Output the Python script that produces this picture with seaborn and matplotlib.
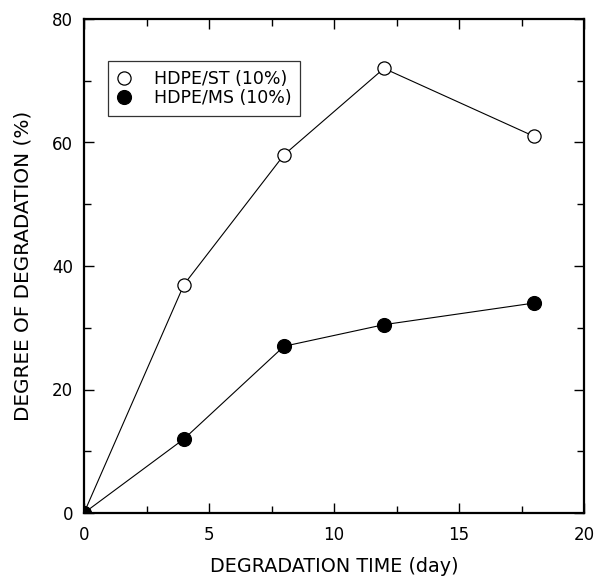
import matplotlib
matplotlib.use("Agg")
import matplotlib.pyplot as plt
import seaborn as sns
import pandas as pd
from matplotlib.ticker import MultipleLocator

days = [0, 4, 8, 12, 18]
st_values = [0, 37, 58, 72, 61]
ms_values = [0, 12, 27, 30.5, 34]
labels = ["HDPE/ST (10%)", "HDPE/MS (10%)"]

sns.set_style("ticks")
plt.rcParams['font.family'] = ['DejaVu Sans']
plt.rcParams['text.color'] = 'black'
plt.rcParams['axes.labelcolor'] = 'black'

fig = plt.figure(figsize=(5.95, 5.79), dpi=100)
ax = fig.add_axes([84/595, 1-513/579, 500/595, 494/579])

df_st = pd.DataFrame({"day": days, "val": st_values})
df_ms = pd.DataFrame({"day": days, "val": ms_values})

sns.lineplot(data=df_st, x="day", y="val", ax=ax, color="black", lw=0.8,
             marker="o", markersize=9.5, markerfacecolor="white",
             markeredgecolor="black", markeredgewidth=0.9, label=labels[0])
sns.lineplot(data=df_ms, x="day", y="val", ax=ax, color="black", lw=0.8,
             marker="o", markersize=10, markerfacecolor="black",
             markeredgecolor="black", markeredgewidth=0.9, label=labels[1])

ax.set_xlim(0, 20)
ax.set_ylim(0, 80)
ax.xaxis.set_major_locator(MultipleLocator(5))
ax.xaxis.set_minor_locator(MultipleLocator(2.5))
ax.yaxis.set_major_locator(MultipleLocator(20))
ax.yaxis.set_minor_locator(MultipleLocator(10))
ax.tick_params(which="both", direction="in", top=True, right=True,
               labelsize=12, width=1.0, colors="black")
ax.tick_params(axis="x", which="both", pad=9.5)
ax.tick_params(axis="y", which="both", pad=8)
ax.tick_params(which="major", length=7)
ax.tick_params(which="minor", length=5)
for s in ax.spines.values():
    s.set_linewidth(1.6)
    s.set_color("black")

ax.set_xlabel("DEGRADATION TIME (day)", fontsize=13.8, labelpad=9)
ax.set_ylabel("DEGREE OF DEGRADATION (%)", fontsize=14.4, labelpad=14)

leg = ax.legend(loc="upper left", bbox_to_anchor=(0.048, 0.915), fontsize=12.5,
                frameon=True, fancybox=False, edgecolor="black",
                handlelength=0.8, handletextpad=1.35, borderpad=0.5,
                labelspacing=0.1, borderaxespad=0)
leg.get_frame().set_linewidth(0.9)
for h in leg.get_lines():
    h.set_linestyle("none")

fig.savefig("out.png", dpi=100)
